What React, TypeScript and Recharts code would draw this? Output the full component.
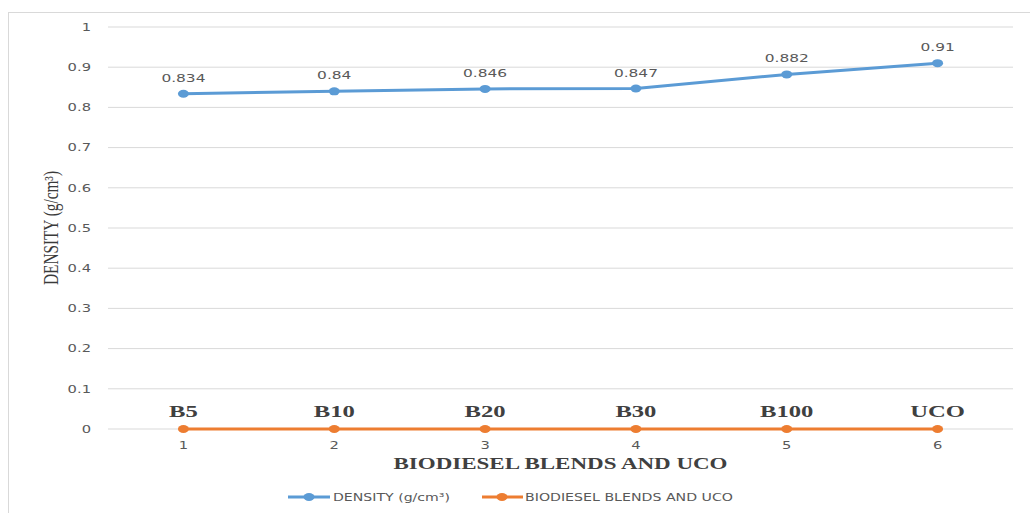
import React from "react";
import { LineChart, Line, XAxis, YAxis, CartesianGrid, LabelList } from "recharts";

const categories = ["1", "2", "3", "4", "5", "6"];
const blendNames = ["B5", "B10", "B20", "B30", "B100", "UCO"];
const densityValues = [0.834, 0.84, 0.846, 0.847, 0.882, 0.91];
const blendValues = [0, 0, 0, 0, 0, 0];
const yTicks = [0, 0.1, 0.2, 0.3, 0.4, 0.5, 0.6, 0.7, 0.8, 0.9, 1];

const data = categories.map((c, i) => ({
  x: c,
  name: blendNames[i],
  density: densityValues[i],
  blend: blendValues[i],
}));

const BLUE = "#5B9BD5";
const ORANGE = "#ED7D31";
const GRID = "#d9d9d9";
const SX = 1.4;
const SANS = "DejaVu Sans";
const SERIF = "Liberation Serif";

const YTick = (p: any) => (
  <text
    transform={`translate(${p.x},${p.y + 3.8}) scale(${SX},1)`}
    textAnchor="end"
    fontFamily={SANS}
    fontSize={10.5}
    fill="#595959"
  >
    {String(p.payload.value)}
  </text>
);

const XTick = (p: any) => (
  <text
    transform={`translate(${p.x},${p.y + 20}) scale(${SX},1)`}
    textAnchor="middle"
    fontFamily={SANS}
    fontSize={10.5}
    fill="#595959"
  >
    {p.payload.value}
  </text>
);

const DensityLabel = (p: any) => (
  <text
    transform={`translate(${p.x},${p.y - 12}) scale(${SX},1)`}
    textAnchor="middle"
    fontFamily={SANS}
    fontSize={11}
    fill="#595959"
  >
    {String(p.value)}
  </text>
);

const BlendLabel = (p: any) => (
  <text
    transform={`translate(${p.x},${p.y - 12}) scale(1.45,1)`}
    textAnchor="middle"
    fontFamily={SERIF}
    fontWeight="bold"
    fontSize={17}
    fill="#404040"
  >
    {p.value}
  </text>
);

const makeDot = (color: string) => (p: any) => (
  <ellipse key={`d-${p.index}`} cx={p.cx} cy={p.cy} rx={5.5} ry={4} fill={color} stroke="none" />
);

const XTitle = (p: any) => {
  const vb = p.viewBox || {};
  return (
    <text
      x={vb.x + vb.width / 2}
      y={vb.y + 40}
      textAnchor="middle"
      fontFamily={SERIF}
      fontWeight="bold"
      fontSize={16}
      fill="#404040"
      textLength={334}
      lengthAdjust="spacingAndGlyphs"
    >
      BIODIESEL BLENDS AND UCO
    </text>
  );
};

const YTitle = (p: any) => {
  const vb = p.viewBox || {};
  const cy = vb.y + vb.height / 2;
  return (
    <text
      transform={`translate(51,${cy}) rotate(-90)`}
      textAnchor="middle"
      dominantBaseline="central"
      fontFamily={SERIF}
      fontSize={20}
      fill="#3a3a3a"
      textLength={114}
      lengthAdjust="spacingAndGlyphs"
    >
      DENSITY (g/cm³)
    </text>
  );
};

export default function App() {
  return (
    <div style={{ position: "absolute", left: 0, top: 0, width: 1030, height: 513, background: "#fff", overflow: "hidden" }}>
      <div
        style={{
          position: "absolute",
          left: 8,
          top: 12,
          width: 1040,
          height: 520,
          border: `1px solid ${GRID}`,
          boxSizing: "border-box",
        }}
      />
      <div style={{ position: "absolute", left: 0, top: 0 }}>
        <LineChart width={1030} height={513} data={data} margin={{ top: 27, right: 17, bottom: 0, left: 0 }}>
          <CartesianGrid horizontal vertical={false} stroke={GRID} strokeWidth={1} />
          <XAxis
            dataKey="x"
            type="category"
            scale="band"
            height={84}
            axisLine={false}
            tickLine={false}
            tickSize={0}
            tickMargin={0}
            tick={<XTick />}
            interval={0}
            label={<XTitle />}
          />
          <YAxis
            type="number"
            domain={[0, 1]}
            ticks={yTicks}
            width={108}
            axisLine={false}
            tickLine={false}
            tickSize={0}
            tickMargin={17}
            tick={<YTick />}
            interval={0}
            label={<YTitle />}
          />
          <Line
            dataKey="density"
            stroke={BLUE}
            strokeWidth={3}
            dot={makeDot(BLUE)}
            activeDot={false}
            isAnimationActive={false}
          >
            <LabelList dataKey="density" content={<DensityLabel />} />
          </Line>
          <Line
            dataKey="blend"
            stroke={ORANGE}
            strokeWidth={3}
            dot={makeDot(ORANGE)}
            activeDot={false}
            isAnimationActive={false}
          >
            <LabelList dataKey="name" content={<BlendLabel />} />
          </Line>
        </LineChart>
      </div>
      <svg width={1030} height={513} style={{ position: "absolute", left: 0, top: 0, pointerEvents: "none" }}>
        <line x1={288} y1={497} x2={330} y2={497} stroke={BLUE} strokeWidth={3} />
        <ellipse cx={309} cy={497} rx={5.5} ry={4} fill={BLUE} />
        <text x={333} y={501} fontFamily={SANS} fontSize={11} fill="#595959" textLength={117} lengthAdjust="spacingAndGlyphs">
          DENSITY (g/cm³)
        </text>
        <line x1={482} y1={497} x2={523} y2={497} stroke={ORANGE} strokeWidth={3} />
        <ellipse cx={502} cy={497} rx={5.5} ry={4} fill={ORANGE} />
        <text x={525} y={501} fontFamily={SANS} fontSize={11} fill="#595959" textLength={208} lengthAdjust="spacingAndGlyphs">
          BIODIESEL BLENDS AND UCO
        </text>
      </svg>
    </div>
  );
}
